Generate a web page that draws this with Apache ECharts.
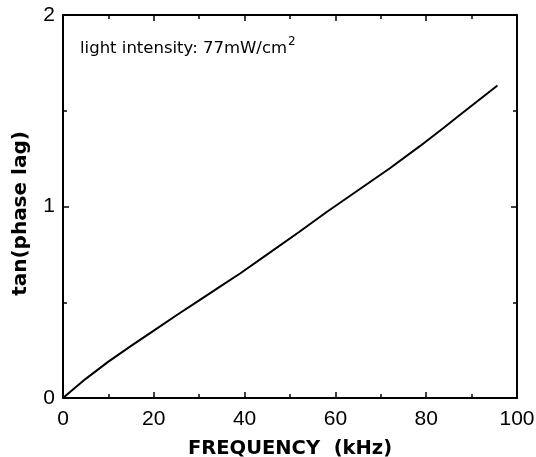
<!DOCTYPE html>
<html>
<head>
<meta charset="utf-8">
<script src="https://cdn.jsdelivr.net/npm/echarts@6/dist/echarts.min.js"></script>
<style>
  html, body { margin: 0; padding: 0; background: #fff; }
  #chart { width: 536px; height: 457px; }
</style>
</head>
<body>
<div id="chart"></div>
<script>
// frequency (kHz) and tan(phase lag)
var freq = [0, 2, 5, 10, 15, 20, 25, 30, 35, 39, 45, 52, 58, 65, 72, 78.6, 83.8, 87.4, 95.7];
var tanLag = [0, 0.04, 0.1, 0.19, 0.272, 0.352, 0.432, 0.51, 0.588, 0.65, 0.75, 0.867, 0.97, 1.085, 1.2, 1.315, 1.41, 1.478, 1.632];
var xTicks = [0, 20, 40, 60, 80, 100];
var yTicks = [0, 1, 2];

var font = 'Liberation Sans, Arial, Helvetica, sans-serif';
var wide = 'DejaVu Sans, Verdana, sans-serif';
var chart = echarts.init(document.getElementById('chart'));

var axisLine = { show: true, onZero: false, lineStyle: { color: '#000', width: 2 } };
var tick = { show: true, inside: true, length: 6, lineStyle: { color: '#000', width: 1.5 } };
var minor = { show: true, splitNumber: 2, length: 4, lineStyle: { color: '#000', width: 1.5 } };

var option = {
  animation: false,
  backgroundColor: '#fff',
  grid: { left: 63, right: 19, top: 15, bottom: 59, containLabel: false, outerBoundsMode: 'none' },
  xAxis: [{
    type: 'value', min: xTicks[0], max: xTicks[xTicks.length - 1], interval: 20,
    position: 'bottom',
    axisLine: axisLine, axisTick: tick, minorTick: minor,
    splitLine: { show: false },
    axisLabel: { color: '#000', fontSize: 21, fontFamily: font, margin: 11 },
    name: 'FREQUENCY  (kHz)', nameLocation: 'middle', nameGap: 41,
    nameTextStyle: { color: '#000', fontSize: 19.5, fontWeight: 'bold', fontFamily: wide }
  }, {
    type: 'value', min: xTicks[0], max: xTicks[xTicks.length - 1], interval: 20,
    position: 'top',
    axisLine: axisLine, axisTick: tick, minorTick: minor,
    splitLine: { show: false }, axisLabel: { show: false }
  }],
  yAxis: [{
    type: 'value', min: yTicks[0], max: yTicks[yTicks.length - 1], interval: 1,
    position: 'left',
    axisLine: axisLine, axisTick: tick, minorTick: minor,
    splitLine: { show: false },
    axisLabel: { color: '#000', fontSize: 21, fontFamily: font, margin: 8 },
    name: 'tan(phase lag)', nameLocation: 'middle', nameGap: 32,
    nameTextStyle: { color: '#000', fontSize: 20, fontWeight: 'bold', fontFamily: wide, padding: [0, 14, 0, 0] }
  }, {
    type: 'value', min: yTicks[0], max: yTicks[yTicks.length - 1], interval: 1,
    position: 'right',
    axisLine: axisLine, axisTick: tick, minorTick: minor,
    splitLine: { show: false }, axisLabel: { show: false }
  }],
  graphic: [{
    type: 'text', left: 80, top: 36,
    style: {
      text: '{a|light intensity: 77mW/cm}{s|2}',
      rich: {
        a: { fontSize: 16.5, fontFamily: wide, fill: '#000', verticalAlign: 'bottom' },
        s: { fontSize: 12, fontFamily: wide, fill: '#000', verticalAlign: 'top', padding: [0, 0, 9, 1] }
      }
    }
  }],
  series: [{
    type: 'line',
    data: freq.map(function (f, i) { return [f, tanLag[i]]; }),
    showSymbol: false,
    lineStyle: { color: '#000', width: 2 }
  }]
};
chart.setOption(option);
</script>
</body>
</html>
